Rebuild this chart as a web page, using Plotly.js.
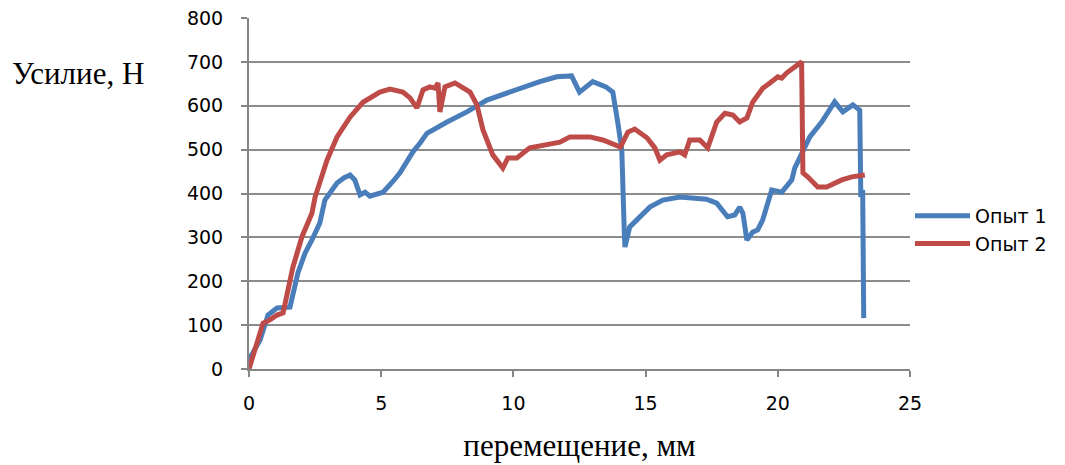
<!DOCTYPE html>
<html>
<head>
<meta charset="utf-8">
<script src="https://cdn.plot.ly/plotly-3.0.1.min.js"></script>
<style>html,body{margin:0;padding:0;background:#fff;}#chart{width:1065px;height:465px;}</style>
</head>
<body>
<div id="chart"></div>
<script>
const seriesNames = ["Опыт 1", "Опыт 2"];
const run1X = [0, 0.05, 0.42, 0.72, 1.06, 1.3, 1.55, 1.85, 2.12, 2.38, 2.68, 2.87, 3.05, 3.33, 3.6, 3.82, 4.0, 4.2, 4.39, 4.57, 5.07, 5.22, 5.45, 5.71, 6.2, 6.47, 6.73, 7.49, 8.24, 9.0, 9.49, 10.25, 11.0, 11.64, 12.2, 12.5, 13.0, 13.5, 13.76, 13.95, 14.1, 14.2, 14.22, 14.4, 14.78, 15.16, 15.65, 16.3, 17.3, 17.69, 18.1, 18.37, 18.56, 18.68, 18.83, 19.05, 19.24, 19.43, 19.77, 20.15, 20.53, 20.64, 21.21, 21.66, 22.15, 22.46, 22.84, 23.1, 23.14, 23.21, 23.25];
const run1Y = [20, 27, 66, 123, 139, 140, 141, 219, 264, 294, 333, 385, 400, 424, 436, 442, 431, 397, 403, 394, 403, 412, 428, 447, 495, 515, 537, 563, 586, 613, 624, 640, 655, 666, 668, 631, 655, 643, 631, 561, 499, 301, 278, 324, 346, 369, 385, 392, 387, 378, 347, 351, 369, 355, 294, 312, 317, 340, 408, 403, 431, 458, 529, 563, 609, 586, 602, 590, 392, 408, 116];
const run2X = [0, 0.3, 0.53, 0.79, 1.06, 1.29, 1.47, 1.66, 2.0, 2.38, 2.5, 2.95, 3.33, 3.82, 4.31, 4.95, 5.33, 5.82, 6.09, 6.35, 6.58, 6.84, 7.03, 7.15, 7.22, 7.41, 7.79, 8.17, 8.36, 8.62, 8.85, 9.22, 9.6, 9.79, 10.13, 10.62, 11.27, 11.76, 12.14, 12.89, 13.38, 14.05, 14.33, 14.59, 15.05, 15.35, 15.54, 15.8, 16.3, 16.48, 16.67, 17.05, 17.35, 17.69, 18.0, 18.3, 18.56, 18.83, 19.05, 19.43, 19.7, 20.0, 20.15, 20.34, 20.9, 20.95, 21.13, 21.51, 21.85, 22.42, 22.8, 23.29];
const run2Y = [0, 62, 104, 112, 123, 128, 173, 232, 301, 355, 392, 476, 529, 574, 608, 631, 638, 631, 618, 595, 636, 643, 640, 652, 586, 643, 652, 636, 631, 602, 545, 488, 458, 481, 481, 504, 511, 517, 529, 529, 522, 506, 540, 547, 527, 504, 476, 488, 495, 488, 522, 522, 504, 563, 583, 579, 563, 572, 608, 640, 652, 666, 663, 675, 700, 447, 438, 415, 415, 431, 438, 442];
const xTicks = [0, 5, 10, 15, 20, 25];
const yTicks = [0, 100, 200, 300, 400, 500, 600, 700, 800];
const xTitle = "перемещение, мм";
const yTitle = "Усилие, Н";

const traces = [
  {x: run1X, y: run1Y, name: seriesNames[0], mode: "lines", line: {color: "#4A7EBB", width: 5}},
  {x: run2X, y: run2Y, name: seriesNames[1], mode: "lines", line: {color: "#BE4B48", width: 5}}
];
const sans = "DejaVu Sans, Liberation Sans, sans-serif";
const serif = "Liberation Serif, Times New Roman, serif";
const tickFont = {family: sans, size: 19, color: "#000"};
const layout = {
  width: 1065, height: 465,
  margin: {l: 249, r: 155, t: 18, b: 96},
  paper_bgcolor: "#fff", plot_bgcolor: "#fff",
  showlegend: true,
  legend: {x: 1.0, xanchor: "left", y: 0.396, yanchor: "middle", font: {family: sans, size: 19, color: "#000"}, itemwidth: 55, tracegroupgap: 0, bgcolor: "rgba(0,0,0,0)"},
  xaxis: {
    range: [0, 25], tickvals: xTicks, ticktext: xTicks.map(String),
    showgrid: false, zeroline: false, showline: true, linecolor: "#868686", linewidth: 2,
    ticks: "outside", ticklen: 6, tickcolor: "#868686", tickwidth: 2, ticklabelstandoff: 10,
    tickfont: tickFont,
    title: {text: xTitle, font: {family: serif, size: 31, color: "#000"}, standoff: 22}
  },
  yaxis: {
    range: [0, 800], tickvals: yTicks, ticktext: yTicks.map(String),
    showgrid: true, gridcolor: "#8c8c8c", gridwidth: 2, zeroline: false,
    showline: true, linecolor: "#868686", linewidth: 2,
    ticks: "outside", ticklen: 6, tickcolor: "#868686", tickwidth: 2, ticklabelstandoff: 14,
    tickfont: tickFont
  },
  annotations: [{
    text: yTitle, xref: "paper", yref: "paper", x: -0.3616, xanchor: "left", y: 0.843, yanchor: "middle",
    showarrow: false, font: {family: serif, size: 31, color: "#000"}
  }]
};
Plotly.newPlot("chart", traces, layout, {displayModeBar: false, staticPlot: true});
</script>
</body>
</html>
